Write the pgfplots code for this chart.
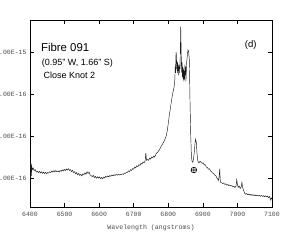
\documentclass[border=0pt]{standalone}
\usepackage{pgfplots}
\pgfplotsset{compat=1.18}
\usepackage{fontspec}
\setmainfont{Liberation Sans}
\newfontfamily\monof{Liberation Mono}
\begin{document}
\begin{tikzpicture}
\begin{axis}[
  at={(0pt,0pt)}, anchor=south west,
  scale only axis, width=242pt, height=187pt,
  xmin=6400, xmax=7100, ymin=2.62, ymax=11.52,
  xtick={6400,6500,6600,6700,6800,6900,7000,7100},
  xticklabels={6400,6500,6600,6700,6800,6900,7000,7100},
  ytick={4,6,8,10},
  yticklabels={4.00E-16,6.00E-16,8.00E-16,1.00E-15},
  tick align=inside, major tick length=4pt,
  tick style={black, line width=0.6pt},
  axis line style={black, line width=0.8pt},
  ticklabel style={font=\monof\fontsize{6.5}{7}\selectfont, text=black!70},
  xticklabel style={yshift=-2pt},
  xlabel={Wavelength (angstroms)},
  xlabel style={font=\monof\fontsize{6.6}{7}\selectfont, text=black!70, at={(axis description cs:0.5,-0.112)}, anchor=center},
  clip=true,
]
\addplot[black!90, line width=0.45pt] coordinates {
(6400,4.45) (6401,4.95) (6402,3.80) (6403,4.70) (6404,4.10) (6405,4.55) (6407,4.40) (6409,4.48)
(6412,4.35) (6415,4.40) (6418,4.28) (6421,4.33) (6424,4.25) (6427,4.32) (6430,4.24) (6433,4.30)
(6436,4.22) (6439,4.28) (6442,4.21) (6445,4.27) (6448,4.20) (6451,4.26) (6454,4.23) (6457,4.30)
(6460,4.26) (6463,4.33) (6466,4.28) (6469,4.35) (6472,4.30) (6475,4.36) (6478,4.29) (6481,4.34)
(6484,4.28) (6487,4.36) (6490,4.31) (6493,4.39) (6496,4.33) (6499,4.41) (6502,4.35) (6505,4.43)
(6508,4.37) (6511,4.45) (6514,4.36) (6517,4.40) (6520,4.30) (6523,4.36) (6526,4.26) (6529,4.30)
(6532,4.20) (6535,4.26) (6538,4.15) (6541,4.22) (6544,4.12) (6547,4.18) (6550,4.10) (6553,4.20)
(6556,4.16) (6559,4.25) (6562,4.18) (6565,4.30) (6568,4.22) (6571,4.28) (6574,4.14) (6577,4.12)
(6580,4.06) (6583,4.13) (6586,4.02) (6589,4.08) (6592,3.99) (6595,4.06) (6598,4.00) (6601,4.05)
(6604,3.97) (6607,4.03) (6610,3.96) (6613,4.04) (6616,4.00) (6619,4.08) (6622,4.04) (6625,4.10)
(6628,4.06) (6631,4.12) (6634,4.08) (6637,4.14) (6640,4.10) (6643,4.16) (6646,4.12) (6649,4.18)
(6652,4.13) (6655,4.17) (6658,4.14) (6661,4.18) (6664,4.15) (6667,4.20) (6670,4.17) (6673,4.23)
(6676,4.22) (6679,4.28) (6682,4.27) (6685,4.34) (6688,4.31) (6691,4.40) (6694,4.36) (6697,4.45)
(6700,4.42) (6703,4.52) (6706,4.48) (6709,4.58) (6712,4.54) (6715,4.64) (6718,4.60) (6721,4.70)
(6724,4.66) (6727,4.76) (6730,4.72) (6733,4.82) (6735,5.20) (6737,4.84) (6740,4.88) (6743,4.84)
(6746,4.95) (6749,4.90) (6752,5.00) (6755,4.96) (6758,5.05) (6761,5.00) (6764,5.12) (6767,5.20)
(6770,5.24) (6773,5.32) (6776,5.40) (6779,5.50) (6782,5.58) (6785,5.66) (6788,5.76) (6791,5.88)
(6794,6.00) (6797,6.25) (6800,6.60) (6803,7.00) (6806,7.30) (6809,7.65) (6812,7.95) (6815,8.20)
(6817,8.35) (6819,8.70) (6820,9.30) (6821,9.00) (6822,9.80) (6823,10.0) (6824,9.20) (6825,9.60)
(6826,9.00) (6827,9.50) (6828,9.10) (6829,9.40) (6830,8.90) (6831,9.30) (6832,9.00) (6833,9.40)
(6834,9.20) (6835,10.2) (6836,11.2) (6837,10.3) (6838,9.40) (6839,9.00) (6840,9.50) (6841,8.80)
(6842,9.30) (6843,8.70) (6844,9.20) (6845,8.60) (6846,9.10) (6847,8.70) (6848,9.40) (6849,8.90)
(6850,9.30) (6851,8.60) (6852,9.00) (6853,9.50) (6855,9.80) (6857,10.1) (6859,10.0) (6861,9.60)
(6862,8.50) (6863,7.50) (6865,6.00) (6867,5.00) (6869,4.78) (6871,4.75) (6873,4.90) (6875,5.20)
(6877,5.60) (6879,5.85) (6881,5.70) (6883,5.20) (6885,4.85) (6887,4.75) (6889,4.72) (6892,4.80)
(6895,4.74) (6898,4.70) (6901,4.72) (6904,4.62) (6907,4.64) (6910,4.52) (6913,4.50) (6916,4.42)
(6919,4.44) (6922,4.35) (6925,4.30) (6928,4.24) (6931,4.22) (6934,4.14) (6937,4.12) (6940,4.02)
(6943,3.96) (6945,3.88) (6947,4.05) (6949,4.45) (6950,3.95) (6951,3.80) (6954,3.78) (6957,3.74)
(6960,3.76) (6963,3.70) (6966,3.72) (6969,3.66) (6972,3.69) (6975,3.64) (6978,3.66) (6981,3.62)
(6984,3.64) (6987,3.58) (6990,3.60) (6993,3.55) (6996,3.62) (6998,3.92) (7000,3.70) (7002,3.55)
(7005,3.62) (7008,3.50) (7011,3.58) (7013,3.80) (7015,3.55) (7018,3.40) (7021,3.28) (7024,3.22)
(7027,3.26) (7030,3.20) (7033,3.24) (7036,3.18) (7039,3.22) (7042,3.17) (7045,3.21) (7048,3.16)
(7051,3.20) (7054,3.15) (7057,3.19) (7060,3.14) (7063,3.18) (7066,3.13) (7069,3.17) (7072,3.12)
(7075,3.16) (7078,3.11) (7081,3.15) (7084,3.10) (7087,3.14) (7090,3.06) (7093,3.12) (7096,2.95)
(7098,3.05) (7100,3.00)
};
\addplot[only marks, mark=oplus, mark size=2.8pt, mark options={black, line width=0.6pt}] coordinates {(6874,4.38)};
\node[anchor=base west, font=\fontsize{11.4}{13}\selectfont, inner sep=0pt] at (rel axis cs:0.045,0.829) {Fibre 091};
\node[anchor=base west, font=\fontsize{9}{11}\selectfont, inner sep=0pt] at (rel axis cs:0.048,0.756) {(0.95" W, 1.66" S)};
\node[anchor=base west, font=\fontsize{9}{11}\selectfont, inner sep=0pt] at (rel axis cs:0.055,0.686) {Close Knot 2};
\node[anchor=base west, font=\fontsize{9.5}{11}\selectfont, inner sep=0pt] at (rel axis cs:0.887,0.852) {(d)};
\end{axis}
\pgfresetboundingbox
\useasboundingbox (-30pt,-36pt) rectangle (278pt,207pt);
\end{tikzpicture}
\end{document}
